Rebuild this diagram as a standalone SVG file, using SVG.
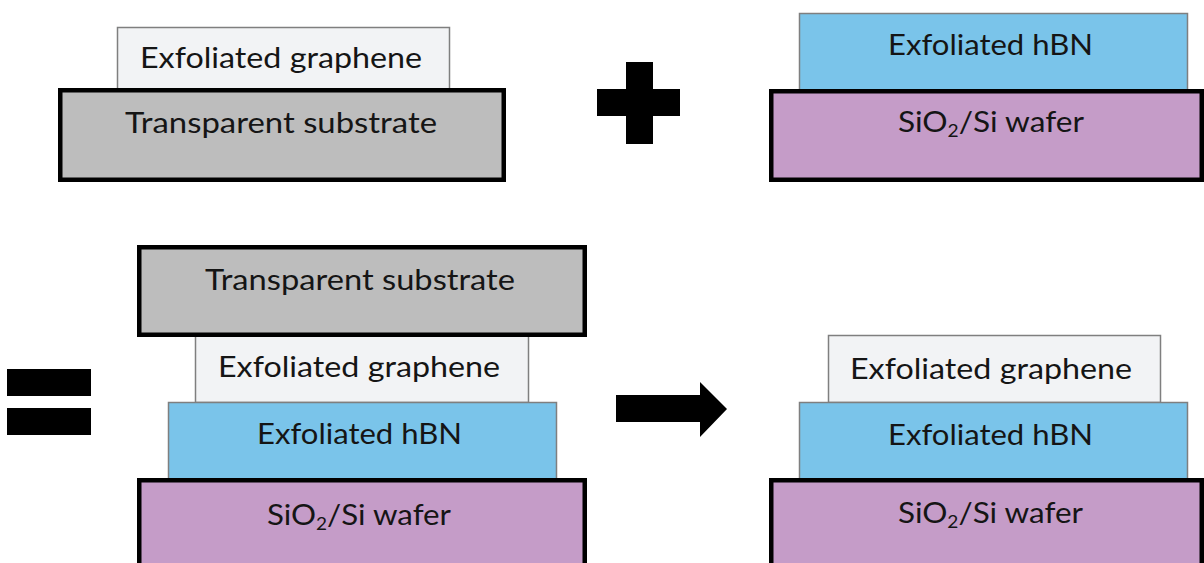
<svg xmlns="http://www.w3.org/2000/svg" width="1204" height="563" viewBox="0 0 1204 563">
  <style>
    .thin { stroke: #7f7f7f; stroke-width: 1.5; }
    .thick { stroke: #000; stroke-width: 4.5; }
    .graphene { fill: #f2f3f5; }
    .hbn { fill: #7ac4ea; }
    .wafer { fill: #c59cc8; }
    .substrate { fill: #bdbdbd; }
    text { font-family: Lato, "Open Sans", "Liberation Sans", sans-serif; font-size: 28px; fill: #151515; }
    .sub { font-size: 17px; }
    .op { fill: #000; }
  </style>

  <!-- Top left: graphene on transparent substrate -->
  <g id="tl-graphene">
    <rect class="thin graphene" x="117.5" y="27.5" width="332" height="62"/>
    <text x="140" y="68" textLength="282" lengthAdjust="spacingAndGlyphs">Exfoliated graphene</text>
  </g>
  <g id="tl-substrate">
    <rect class="thick substrate" x="60.25" y="90.25" width="443.5" height="89.5"/>
    <text x="125" y="133" textLength="312" lengthAdjust="spacingAndGlyphs">Transparent substrate</text>
  </g>

  <!-- Top right: hBN on SiO2/Si -->
  <g id="tr-hbn">
    <rect class="thin hbn" x="799.5" y="13.5" width="388" height="77"/>
    <text x="888" y="55" textLength="205" lengthAdjust="spacingAndGlyphs">Exfoliated hBN</text>
  </g>
  <g id="tr-wafer">
    <rect class="thick wafer" x="771.25" y="91.25" width="430.5" height="88.5"/>
    <text x="898" y="132" textLength="186" lengthAdjust="spacingAndGlyphs">SiO<tspan class="sub" dy="5">2</tspan><tspan dy="-5">/Si wafer</tspan></text>
  </g>

  <!-- Bottom left: stacked assembly -->
  <g id="bl-graphene">
    <rect class="thin graphene" x="195.5" y="335" width="333" height="67.5"/>
    <text x="218" y="377" textLength="282" lengthAdjust="spacingAndGlyphs">Exfoliated graphene</text>
  </g>
  <g id="bl-substrate">
    <rect class="thick substrate" x="139.25" y="247.25" width="445.5" height="87.5"/>
    <text x="205" y="290" textLength="310" lengthAdjust="spacingAndGlyphs">Transparent substrate</text>
  </g>
  <g id="bl-hbn">
    <rect class="thin hbn" x="168.5" y="402.5" width="388" height="77"/>
    <text x="257" y="444" textLength="205" lengthAdjust="spacingAndGlyphs">Exfoliated hBN</text>
  </g>
  <g id="bl-wafer">
    <rect class="thick wafer" x="139.25" y="480.25" width="445.5" height="100"/>
    <text x="267" y="525" textLength="184" lengthAdjust="spacingAndGlyphs">SiO<tspan class="sub" dy="5">2</tspan><tspan dy="-5">/Si wafer</tspan></text>
  </g>

  <!-- Bottom right: final heterostructure -->
  <g id="br-graphene">
    <rect class="thin graphene" x="828.5" y="335.5" width="332" height="67"/>
    <text x="850" y="379" textLength="282" lengthAdjust="spacingAndGlyphs">Exfoliated graphene</text>
  </g>
  <g id="br-hbn">
    <rect class="thin hbn" x="799.5" y="402.5" width="388" height="77"/>
    <text x="888" y="445" textLength="205" lengthAdjust="spacingAndGlyphs">Exfoliated hBN</text>
  </g>
  <g id="br-wafer">
    <rect class="thick wafer" x="771.25" y="480.25" width="430.5" height="100"/>
    <text x="898" y="523" textLength="185" lengthAdjust="spacingAndGlyphs">SiO<tspan class="sub" dy="5">2</tspan><tspan dy="-5">/Si wafer</tspan></text>
  </g>

  <!-- Operators: plus, equals and process arrow -->
  <g id="connectors">
    <polygon class="op" points="626,62 653,62 653,89 680,89 680,116 653,116 653,144 626,144 626,116 597,116 597,89 626,89"/>
    <rect class="op" x="7" y="369" width="84" height="27"/>
    <rect class="op" x="7" y="408" width="84" height="27"/>
    <polygon class="op" points="616,395 700,395 700,382 727,409 700,437 700,422 616,422"/>
  </g>
</svg>
